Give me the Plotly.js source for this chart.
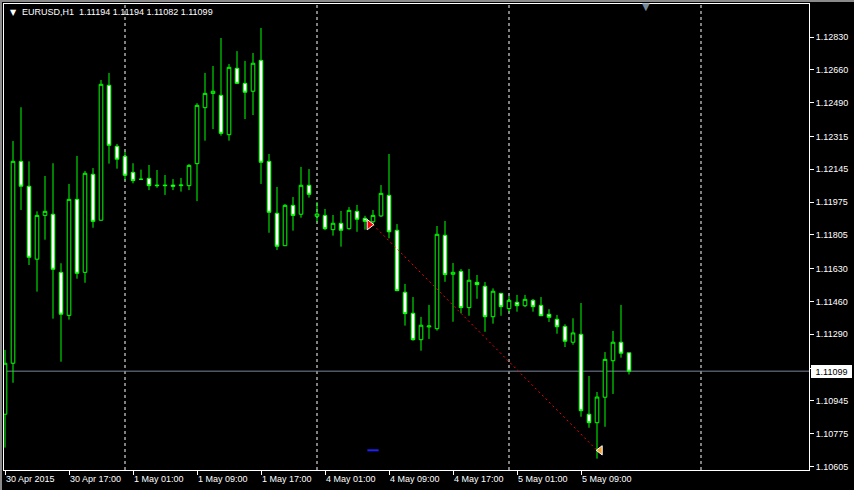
<!DOCTYPE html>
<html>
<head>
<meta charset="utf-8">
<script src="https://cdn.plot.ly/plotly-3.0.1.min.js"></script>
<style>
html,body{margin:0;padding:0;background:#000;}
#chart{width:854px;height:490px;}
</style>
</head>
<body>
<div id="chart"></div>
<script>
// EURUSD H1 bars, 30 Apr 2015 09:00 .. 5 May 2015 15:00 (bar index 0..78)
const openP = [1.10876,1.11140,1.12186,1.12057,1.11679,1.11906,1.11912,1.11611,1.11388,1.11989,
1.11611,1.12119,1.11881,1.12580,1.12264,1.12212,1.12129,1.12093,1.12098,1.12063,
1.12063,1.12063,1.12060,1.12060,1.12174,1.12464,1.12538,1.12528,1.12324,1.12668,
1.12590,1.12549,1.12709,1.12186,1.11917,1.11749,1.11958,1.11912,1.12062,1.11901,
1.11906,1.11832,1.11865,1.11837,1.11927,1.11891,1.11873,1.11903,1.12010,1.11829,
1.11508,1.11399,1.11262,1.11328,1.11319,1.11803,1.11601,1.11616,1.11428,1.11559,
1.11539,1.11381,1.11502,1.11423,1.11456,1.11438,1.11466,1.11440,1.11394,1.11368,
1.11331,1.11249,1.11290,1.10876,1.10832,1.10964,1.11153,1.11249,1.11194];
const highP = [1.11209,1.12291,1.12466,1.12186,1.11927,1.12110,1.12176,1.11658,1.12069,1.12214,
1.12136,1.12151,1.12607,1.12644,1.12276,1.12236,1.12176,1.12143,1.12167,1.12141,
1.12115,1.12094,1.12100,1.12172,1.12487,1.12644,1.12680,1.12825,1.12690,1.12757,
1.12706,1.12747,1.12877,1.12224,1.12053,1.11965,1.12001,1.12157,1.12146,1.11975,
1.11939,1.11908,1.11929,1.11949,1.11960,1.11904,1.11934,1.12063,1.12224,1.11861,
1.11551,1.11483,1.11380,1.11442,1.11851,1.11877,1.11659,1.11628,1.11628,1.11597,
1.11561,1.11528,1.11502,1.11488,1.11494,1.11494,1.11473,1.11483,1.11420,1.11390,
1.11342,1.11373,1.11452,1.11074,1.10991,1.11198,1.11307,1.11442,1.11194];
const lowP = [1.10703,1.11039,1.11934,1.11649,1.11511,1.11780,1.11371,1.11148,1.11366,1.11578,
1.11557,1.11842,1.11878,1.12174,1.12148,1.12089,1.12072,1.12091,1.12037,1.12049,
1.12012,1.12037,1.12029,1.12037,1.11980,1.12293,1.12353,1.12319,1.12293,1.12588,
1.12405,1.12426,1.12069,1.11816,1.11727,1.11747,1.11827,1.11894,1.11998,1.11870,
1.11830,1.11801,1.11744,1.11832,1.11821,1.11832,1.11856,1.11898,1.11787,1.11514,
1.11335,1.11257,1.11205,1.11266,1.11309,1.11562,1.11355,1.11399,1.11386,1.11474,
1.11303,1.11345,1.11386,1.11404,1.11407,1.11431,1.11407,1.11386,1.11354,1.11293,
1.11224,1.11236,1.10863,1.10806,1.10646,1.10811,1.10981,1.11169,1.11082];
const closeP = [1.11140,1.12186,1.12057,1.11689,1.11906,1.11927,1.11627,1.11394,1.11989,1.11606,
1.12124,1.11875,1.12585,1.12269,1.12197,1.12114,1.12086,1.12093,1.12060,1.12060,
1.12060,1.12057,1.12063,1.12165,1.12476,1.12538,1.12549,1.12331,1.12673,1.12590,
1.12544,1.12694,1.12181,1.11922,1.11746,1.11958,1.11906,1.12062,1.12015,1.11913,
1.11837,1.11865,1.11829,1.11932,1.11886,1.11875,1.11906,1.12020,1.11821,1.11516,
1.11397,1.11262,1.11337,1.11333,1.11808,1.11599,1.11611,1.11428,1.11570,1.11547,
1.11381,1.11513,1.11433,1.11466,1.11438,1.11471,1.11433,1.11386,1.11378,1.11329,
1.11254,1.11297,1.10894,1.10832,1.10965,1.11160,1.11249,1.11192,1.11099];

// x-axis time labels (bar index -> label)
const tickIdx = [0, 8, 16, 24, 32, 40, 48, 56, 64, 72];
const tickLabels = ['30 Apr 2015','30 Apr 17:00','1 May 01:00','1 May 09:00','1 May 17:00',
                    '4 May 01:00','4 May 09:00','4 May 17:00','5 May 01:00','5 May 09:00'];
// day separators (bar index of 00:00 bars)
const dayStartIdx = [15, 39, 63, 87];

// price scale labels
const priceTicks = [1.12830,1.12660,1.12490,1.12315,1.12145,1.11975,1.11805,1.11630,1.11460,1.11290,1.11115,1.10945,1.10775,1.10605];
const priceTickText = ['1.12830','1.12660','1.12490','1.12315','1.12145','1.11975','1.11805','1.11630','1.11460','1.11290','1.11115','1.10945','1.10775','1.10605'];

// header values
const symbolName = 'EURUSD,H1';
const hdrO = '1.11194', hdrH = '1.11194', hdrL = '1.11082', hdrC = '1.11099';
const bidPrice = 1.11099;

// trade (open arrow -> close arrow) and take-profit mark
const tradeOpenIdx = 46, tradeOpenPrice = 1.11858;
const tradeCloseIdx = 74, tradeClosePrice = 1.10689;
const takeProfit = 1.10689;
const chartShiftIdx = 80.1;

const idx = openP.map((_, i) => i);
const FONT = 'Liberation Sans, Arial, sans-serif';

const candles = {
  type: 'candlestick',
  x: idx, open: openP, high: highP, low: lowP, close: closeP,
  increasing: {line: {color: '#00FF00', width: 1}, fillcolor: '#000000'},
  decreasing: {line: {color: '#00FF00', width: 1}, fillcolor: '#FFFFFF'},
  whiskerwidth: 0,
  hoverinfo: 'skip',
  showlegend: false
};

const tradeLine = {
  type: 'scatter', mode: 'lines',
  x: [tradeOpenIdx, tradeCloseIdx], y: [tradeOpenPrice, tradeClosePrice],
  line: {color: '#FF0000', width: 1, dash: '2px,3px'},
  hoverinfo: 'skip', showlegend: false
};
const openMark = {
  type: 'scatter', mode: 'markers',
  x: [tradeOpenIdx - 0.45], y: [tradeOpenPrice],
  marker: {symbol: 'triangle-right', size: 9, color: '#FF0000', line: {color: '#FFFFFF', width: 1}},
  hoverinfo: 'skip', showlegend: false, cliponaxis: false
};
const closeMark = {
  type: 'scatter', mode: 'markers',
  x: [tradeCloseIdx + 0.4], y: [tradeClosePrice],
  marker: {symbol: 'triangle-left', size: 8, color: '#F0A030', line: {color: '#FFFFFF', width: 1}},
  hoverinfo: 'skip', showlegend: false
};
const tpMark = {
  type: 'scatter', mode: 'markers',
  x: [tradeOpenIdx], y: [takeProfit],
  marker: {symbol: 'line-ew', size: 8, line: {color: '#2020FF', width: 2}},
  hoverinfo: 'skip', showlegend: false
};

const shapes = [];
dayStartIdx.forEach(d => shapes.push({
  type: 'line', xref: 'x', yref: 'paper', x0: d, x1: d, y0: 0, y1: 1,
  line: {color: '#FFFFFF', width: 1, dash: '3px,3px'}, layer: 'below'
}));
shapes.push({
  type: 'line', xref: 'paper', yref: 'y', x0: 0, x1: 1, y0: bidPrice, y1: bidPrice,
  line: {color: '#778899', width: 1}, layer: 'below'
});
// window frame (gray) at top and left edge
shapes.push({type: 'line', xref: 'paper', yref: 'paper', x0: -4/805, x1: 850/805, y0: 469/466, y1: 469/466,
  line: {color: '#8a8a8a', width: 2}});
shapes.push({type: 'line', xref: 'paper', yref: 'paper', x0: -3/805, x1: -3/805, y0: -20/466, y1: 470/466,
  line: {color: '#8a8a8a', width: 2}});

const annotations = [
  {xref: 'paper', yref: 'paper', x: 4/805, y: 1 - 8/466, xanchor: 'left', yanchor: 'middle',
   text: '▼', showarrow: false, font: {family: 'DejaVu Sans', size: 8, color: '#FFFFFF'}},
  {xref: 'paper', yref: 'paper', x: 16/805, y: 1 - 8/466, xanchor: 'left', yanchor: 'middle',
   text: symbolName + '&nbsp;&nbsp;' + hdrO + ' ' + hdrH + ' ' + hdrL + ' ' + hdrC,
   showarrow: false, font: {family: FONT, size: 9, color: '#FFFFFF'}},
  {xref: 'paper', yref: 'y', x: 1, y: bidPrice, xanchor: 'left', yanchor: 'middle', xshift: 2,
   text: bidPrice.toFixed(5), showarrow: false, bgcolor: '#FFFFFF', borderpad: 1, borderwidth: 0,
   width: 39, height: 11, align: 'center', font: {family: FONT, size: 9, color: '#000000'}},
  {xref: 'x', yref: 'paper', x: chartShiftIdx, y: 1, xanchor: 'center', yanchor: 'top', yshift: 5,
   text: '▼', showarrow: false, font: {family: 'DejaVu Sans', size: 10, color: '#778899'}}
];

const layout = {
  width: 854, height: 490,
  margin: {l: 4, r: 45, t: 4, b: 20, pad: 0},
  paper_bgcolor: '#000000', plot_bgcolor: '#000000',
  showlegend: false, hovermode: false,
  boxgap: 0.35,
  font: {family: FONT, size: 9, color: '#FFFFFF'},
  xaxis: {
    type: 'linear', range: [-0.125, 100.5], fixedrange: true,
    rangeslider: {visible: false},
    showgrid: false, zeroline: false,
    showline: true, mirror: true, linecolor: '#FFFFFF', linewidth: 1,
    tickmode: 'array', tickvals: tickIdx, ticktext: tickLabels,
    ticks: 'outside', ticklen: 4, tickcolor: '#FFFFFF', tickwidth: 1,
    ticklabelposition: 'outside right',
    tickfont: {family: FONT, size: 9, color: '#FFFFFF'}
  },
  yaxis: {
    side: 'right', range: [1.10587, 1.13001], fixedrange: true,
    showgrid: false, zeroline: false,
    showline: true, mirror: true, linecolor: '#FFFFFF', linewidth: 1,
    tickmode: 'array', tickvals: priceTicks, ticktext: priceTickText,
    ticks: 'outside', ticklen: 4, tickcolor: '#FFFFFF', tickwidth: 1,
    tickfont: {family: FONT, size: 9, color: '#FFFFFF'}
  },
  shapes: shapes,
  annotations: annotations
};

Plotly.newPlot('chart', [candles, tradeLine, tpMark, openMark, closeMark], layout,
  {displayModeBar: false, staticPlot: true});
</script>
</body>
</html>
